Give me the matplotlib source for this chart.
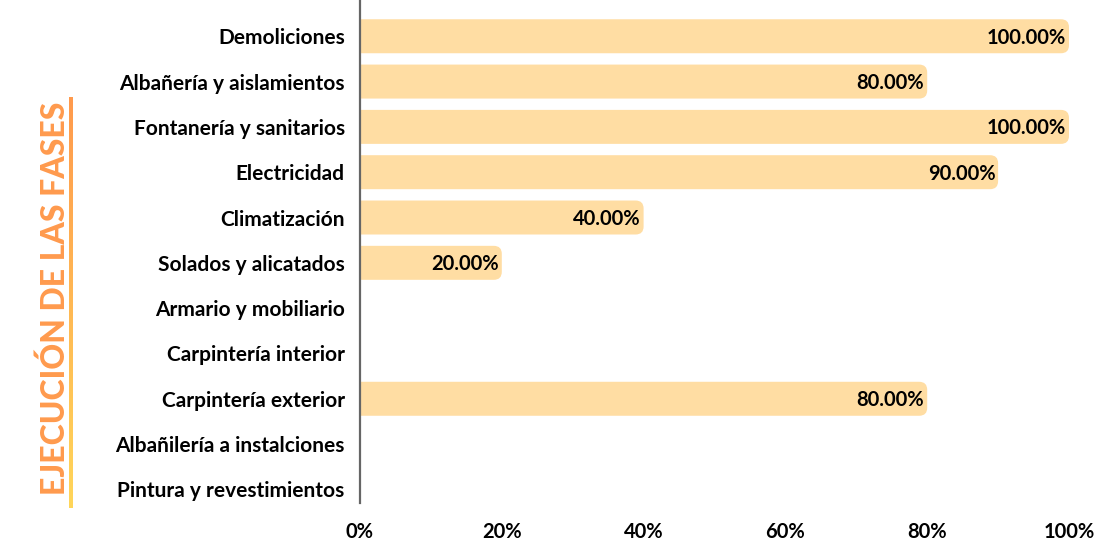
import matplotlib
matplotlib.use("Agg")
import matplotlib.pyplot as plt
import numpy as np
from matplotlib.patches import FancyBboxPatch
from matplotlib.colors import LinearSegmentedColormap

# data
fases = ["Demoliciones", "Albañería y aislamientos", "Fontanería y sanitarios",
         "Electricidad", "Climatización", "Solados y alicatados",
         "Armario y mobiliario", "Carpintería interior", "Carpintería exterior",
         "Albañilería a instalciones", "Pintura y revestimientos"]
avance = [100, 80, 100, 90, 40, 20, 0, 0, 80, 0, 0]
xticks = [0, 20, 40, 60, 80, 100]
titulo = "EJECUCIÓN DE LAS FASES"

bar_color = "#FFDDA3"
orange = "#FF9A4D"
font = "Lato"

fig = plt.figure(figsize=(11, 5.5), dpi=100, facecolor="w")
ax = fig.add_axes([360 / 1100, 1 - 503 / 550, 709 / 1100, 503 / 550])

y = np.arange(len(fases))
bars = ax.barh(y, avance, height=0.75, color=bar_color)

# rounded bars (right side rounded, left end clipped by the axis)
px_x = 709 / 100.0
px_y = 503 / 11.1
aspect = px_x / px_y
r = 8 / px_x
for b in bars:
    b.set_visible(False)
    w = b.get_width()
    if w <= 0:
        continue
    p = FancyBboxPatch((b.get_x() - 2 * r, b.get_y()), w + 2 * r, b.get_height(),
                       boxstyle=f"round,pad=0,rounding_size={r}",
                       mutation_aspect=aspect,
                       facecolor=bar_color, edgecolor="none", clip_on=True)
    ax.add_patch(p)
    ax.text(w - 0.4, b.get_y() + b.get_height() / 2 + 0.03, f"{w:.2f}%",
            ha="right", va="center", fontsize=14.5, fontweight="bold",
            family=font, color="black")

ax.set_xlim(0, 100)
ax.set_ylim(10.3, -0.8)
ax.set_yticks(y)
ax.set_yticklabels(fases, fontsize=15, fontweight="bold", family=font)
ax.set_xticks(xticks)
ax.set_xticklabels([f"{t}%" for t in xticks], fontsize=14.5, fontweight="bold", family=font)
ax.tick_params(axis="both", length=0)
ax.tick_params(axis="y", pad=11)
ax.tick_params(axis="x", pad=14)

for s in ["top", "bottom", "right"]:
    ax.spines[s].set_visible(False)
ax.spines["left"].set_color("#666666")
ax.spines["left"].set_linewidth(1.6)

# vertical title with gradient line
fig.text(55 / 1100, 1 - 298 / 550, titulo, rotation=90, ha="center", va="center",
         fontsize=23, fontweight="black", family=font, color=orange)
lax = fig.add_axes([69 / 1100, 1 - 508 / 550, 4 / 1100, 411 / 550])
grad = np.linspace(0, 1, 256).reshape(-1, 1)
cmap = LinearSegmentedColormap.from_list("g", [orange, "#FFD65A"])
lax.imshow(grad, aspect="auto", cmap=cmap, extent=[0, 1, 1, 0])
lax.axis("off")

fig.savefig("out.png", dpi=100, facecolor="w")
